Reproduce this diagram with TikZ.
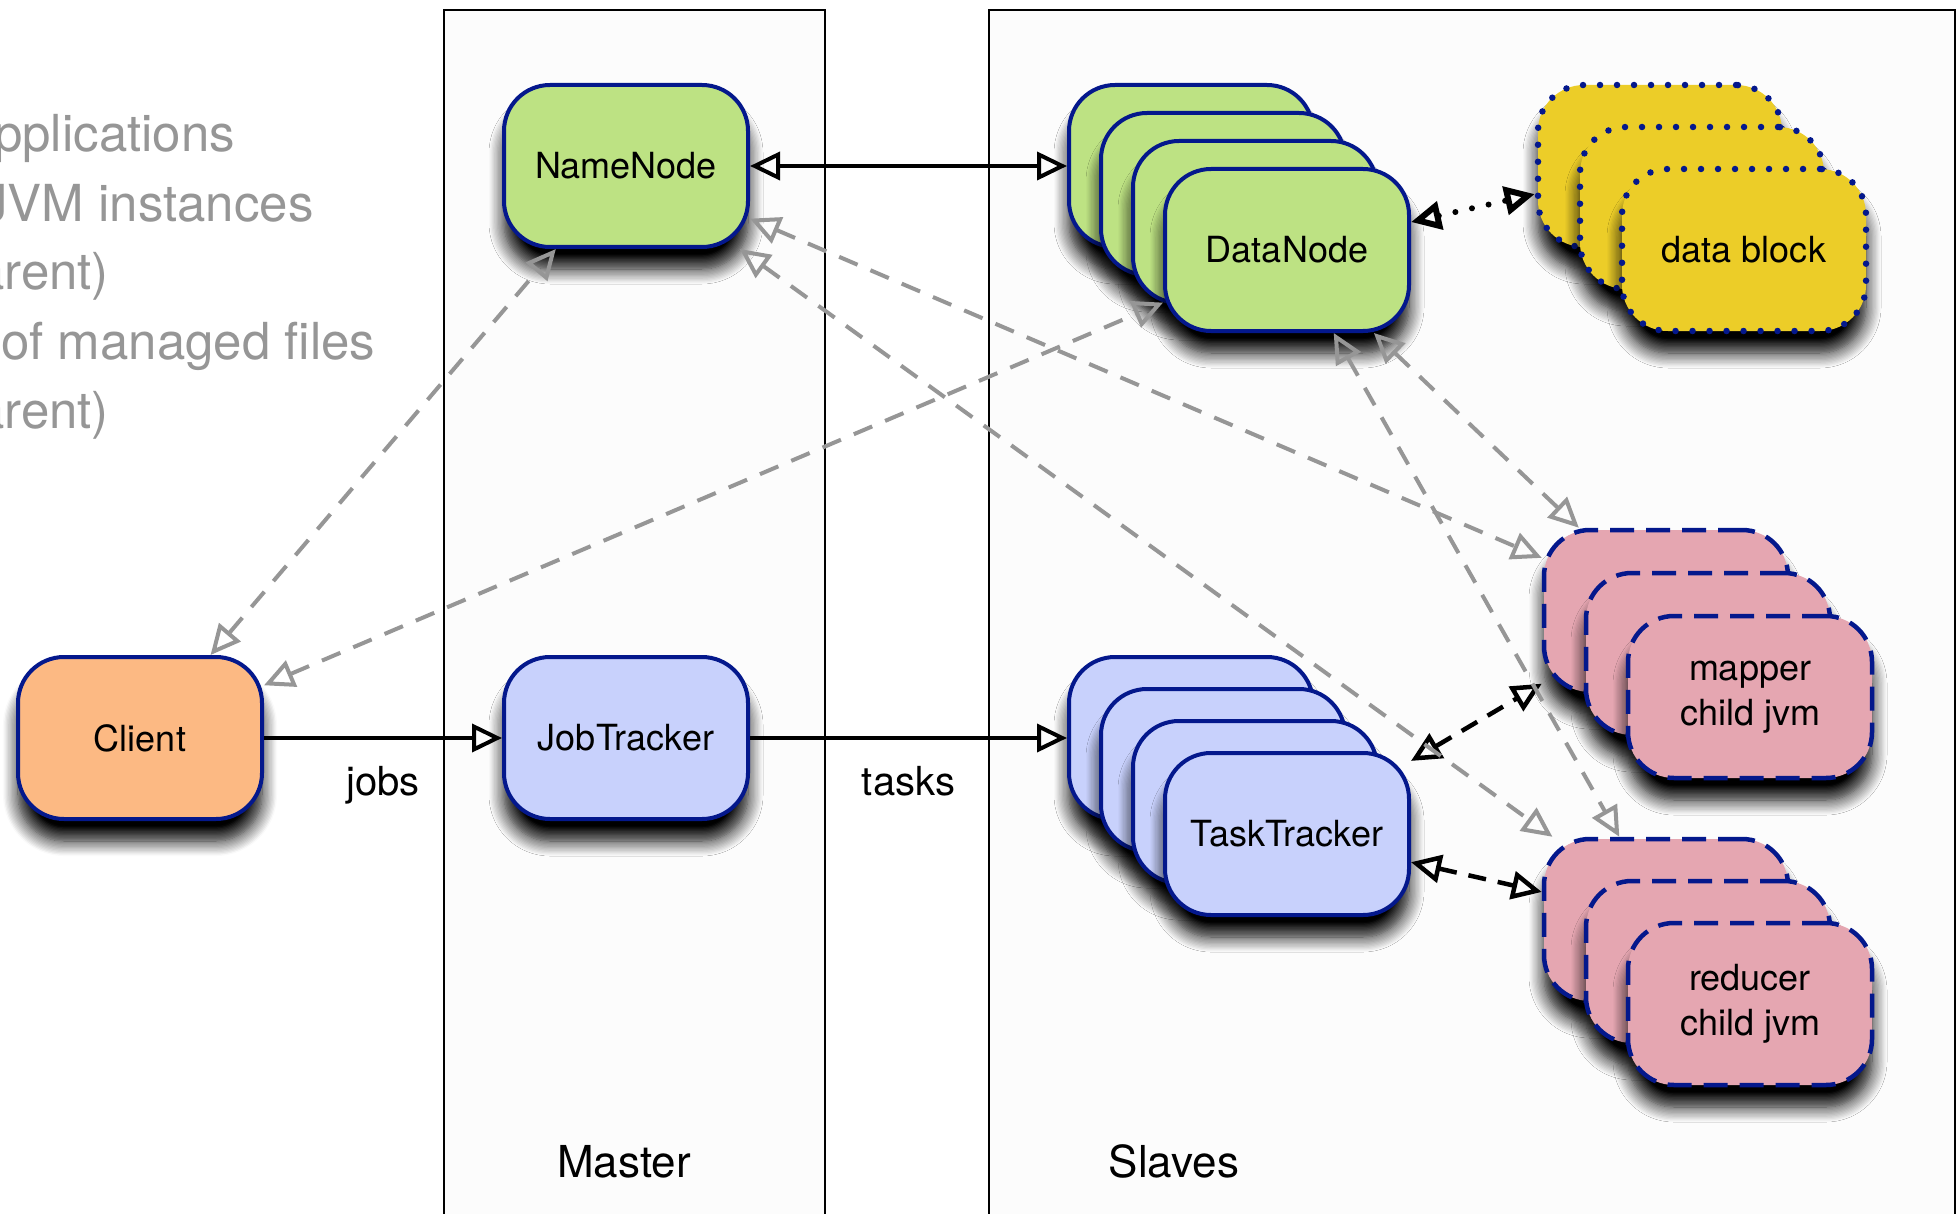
\documentclass[tikz,border=0pt]{standalone}
\usepackage{fontspec}
\setmainfont{TeX Gyre Heros}
\usetikzlibrary{arrows.meta,shadows.blur}

\definecolor{navy}{RGB}{4,24,140}
\definecolor{leaf}{RGB}{189,226,131}
\definecolor{lavender}{RGB}{200,209,252}
\definecolor{apricot}{RGB}{252,185,131}
\definecolor{mustard}{RGB}{236,205,40}
\definecolor{rose}{RGB}{229,166,177}
\definecolor{linkgrey}{RGB}{150,150,150}
\definecolor{notegrey}{RGB}{150,150,150}

\newcommand\cardfont{\fontsize{36}{45}\selectfont}
\newcommand\labelfont{\fontsize{40}{48}\selectfont}
\newcommand\panelfont{\fontsize{44}{52}\selectfont}
\newcommand\notefont{\fontsize{51}{60}\selectfont}

\begin{document}
\begin{tikzpicture}[x=1pt, y=-1pt,
  >={Triangle[open,length=30pt,width=28pt]},
  card/.style={rectangle, rounded corners=46pt, minimum width=244pt,
    minimum height=162pt, inner sep=0pt, draw=navy, line width=4pt,
    align=center, font=\cardfont,
    blur shadow={shadow xshift=0pt, shadow yshift=-22pt,
      shadow blur radius=15pt, shadow blur steps=12, shadow opacity=100}},
  dotcard/.style={card, dash pattern=on 0pt off 17pt, line cap=round, line width=6.5pt},
  dashcard/.style={card, dash pattern=on 24pt off 12pt, line width=4.5pt},
  panel/.style={draw=black, line width=2.5pt, fill=black!1},
  note/.style={anchor=base west, inner sep=0pt, text=notegrey, font=\notefont},
  flow/.style={draw=black, line width=4pt},
  blackdash/.style={draw=black, line width=4.5pt, dash pattern=on 18pt off 12pt},
  blackdot/.style={draw=black, line width=6pt, line cap=round, dash pattern=on 0pt off 17pt},
  greylink/.style={draw=linkgrey, line width=4pt, dash pattern=on 20pt off 14pt},
  caption/.style={anchor=base, font=\panelfont},
  flowlabel/.style={anchor=base, font=\labelfont, yshift=-57pt}
]
\useasboundingbox (0,0) rectangle (1958,1214);
\clip (0,0) rectangle (1958,1214);

% swimlanes
\draw[panel] (444,10) rectangle (825,1240);
\draw[panel] (989,10) rectangle (1955,1240);
\node[caption] (master) at (624,1177) {Master};
\node[caption] (slaves) at (1174,1177) {Slaves};

% side notes
\node[note] (n1) at (-6,152) {pplications};
\node[note] (n2) at (-18,222) {JVM instances};
\node[note] (n3) at (-24,290) {arent)};
\node[note] (n4) at (1,359) {of managed files};
\node[note] (n5) at (-24,428) {arent)};

% master daemons and client
\node[card, fill=leaf] (nn) at (626,166) {NameNode};
\node[card, fill=apricot] (cl) at (140,738) {Client};
\node[card, fill=lavender] (jt) at (626,738) {JobTracker};

% data nodes
\node[card, fill=leaf] (dn1) at (1191,166) {};
\node[card, fill=leaf] (dn2) at (1223,194) {};
\node[card, fill=leaf] (dn3) at (1255,222) {};
\node[card, fill=leaf] (dn4) at (1287,250) {DataNode};

% task trackers
\node[card, fill=lavender] (tt1) at (1191,738) {};
\node[card, fill=lavender] (tt2) at (1223,770) {};
\node[card, fill=lavender] (tt3) at (1255,802) {};
\node[card, fill=lavender] (tt4) at (1287,834) {TaskTracker};

% data blocks
\node[dotcard, fill=mustard] (db1) at (1660,166) {};
\node[dotcard, fill=mustard] (db2) at (1702,208) {};
\node[dotcard, fill=mustard] (db3) at (1744,250) {data block};

% mapper child JVMs
\node[dashcard, fill=rose] (mp1) at (1666,611) {};
\node[dashcard, fill=rose] (mp2) at (1708,654) {};
\node[dashcard, fill=rose] (mp3) at (1750,697) {mapper\\child jvm};

% reducer child JVMs
\node[dashcard, fill=rose] (rd1) at (1666,920) {};
\node[dashcard, fill=rose] (rd2) at (1708,962) {};
\node[dashcard, fill=rose] (rd3) at (1750,1004) {reducer\\child jvm};

% control flow
\draw[flow, <->] (nn) -- (dn1);
\draw[flow, ->] (cl) -- (jt) node[midway, flowlabel] (jobs) {jobs};
\draw[flow, ->] (jt) -- (tt1) node[midway, flowlabel] (tasks) {tasks};

% local links on the slaves
\draw[blackdot, <->] (dn4) -- (db1);
\draw[blackdash, <->] (tt4) -- (mp1);
\draw[blackdash, <->] (tt4) -- (rd1);

% HDFS traffic
\draw[greylink, <->] (cl) -- (nn);
\draw[greylink, <->] (cl) -- (dn4);
\draw[greylink, <->] (nn) -- (mp1);
\draw[greylink, <->] (nn) -- (rd1);
\draw[greylink, <->] (dn4) -- (mp1);
\draw[greylink, <->] (dn4) -- (rd1);
\end{tikzpicture}
\end{document}
